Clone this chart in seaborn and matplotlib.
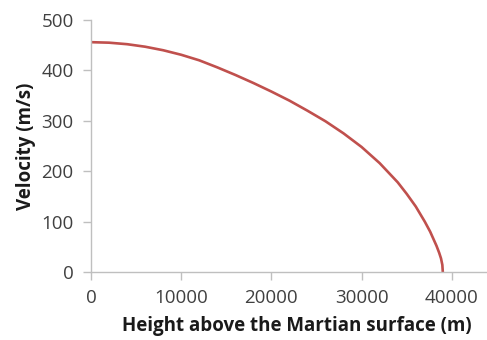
import numpy as np
import pandas as pd
import seaborn as sns
import matplotlib.pyplot as plt

# Values
height_m = [0, 2000, 4000, 6000, 8000, 10000, 12000, 14000, 16000, 18000, 20000,
            22000, 24000, 26000, 28000, 30000, 32000, 34000, 35000, 36000, 37000,
            37600, 38000, 38300, 38600, 38800, 38950, 39000]
velocity_ms = [456, 455, 452, 447, 440, 431, 420, 406, 391, 375, 358,
               340, 320, 299, 275, 248, 216, 178, 155, 130, 100,
               80, 64, 52, 38, 27, 14, 0]
x_ticks = [0, 10000, 20000, 30000, 40000]
y_ticks = [0, 100, 200, 300, 400, 500]

df = pd.DataFrame({'height': height_m, 'velocity': velocity_ms})

sns.set_theme(style='ticks')
plt.rcParams['font.family'] = ['Open Sans', 'DejaVu Sans']

fig = plt.figure(figsize=(4.87, 3.40), dpi=100)
ax = fig.add_axes([91 / 487, 68 / 340, 396 / 487, 252 / 340])

sns.lineplot(data=df, x='height', y='velocity', ax=ax, color='#C0504D', linewidth=1.9)

ax.set_xlim(0, 43900)
ax.set_ylim(0, 500)
ax.set_xticks(x_ticks)
ax.set_yticks(y_ticks)
ax.set_xticklabels([str(t) for t in x_ticks])
ax.set_yticklabels([str(t) for t in y_ticks])

for side in ['top', 'right']:
    ax.spines[side].set_visible(False)
for side in ['left', 'bottom']:
    ax.spines[side].set_color('#BFBFBF')
    ax.spines[side].set_linewidth(1.0)
ax.tick_params(axis='both', colors='#BFBFBF', labelcolor='#404040', length=5.5,
               width=1.0, labelsize=13.5, pad=7)

ax.set_xlabel('Height above the Martian surface (m)', fontsize=13.5, fontweight='bold',
              color='#1a1a1a')
ax.xaxis.set_label_coords(0.52, -0.175)
ax.set_ylabel('Velocity (m/s)', fontsize=13.5, fontweight='bold', color='#1a1a1a', labelpad=4)

fig.savefig('out.png', dpi=100)
